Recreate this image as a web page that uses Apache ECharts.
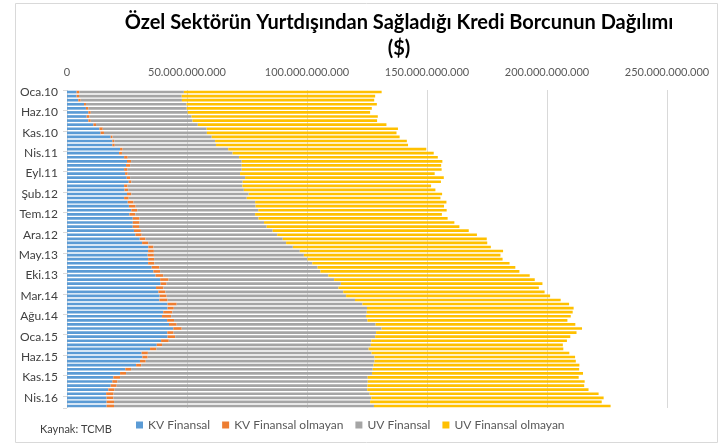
<!DOCTYPE html>
<html lang="tr">

<head>
    <meta charset="UTF-8">
    <title>Özel Sektör Kredi Borcu</title>
    <script src="https://cdn.jsdelivr.net/npm/echarts@6/dist/echarts.min.js"></script>
    <style>
        html, body {
            margin: 0;
            padding: 0;
            background: #fff;
        }

        #chart {
            width: 723px;
            height: 445px;
        }
    </style>
</head>

<body>
    <div id="chart"></div>
    <script type="text/javascript">
        // ay kısaltmaları ve yıllar (Oca.10 - Haz.16)
        const monthNames = ['Oca', 'Şub', 'Mar', 'Nis', 'May', 'Haz', 'Tem', 'Ağu', 'Eyl', 'Eki', 'Kas', 'Ara']
        const years = ['10', '11', '12', '13', '14', '15', '16']
        const lastMonthCount = 6 // 2016: Oca - Haz

        // milyar $ cinsinden
        const kvFinansal = [4.0, 4.0, 4.7, 7.1, 7.9, 8.9, 8.2, 8.9, 11.0, 13.5,
            14.0, 18.2, 18.9, 18.9, 22.1, 21.7, 23.8, 25.0, 24.6, 23.8,
            24.2, 24.9, 25.7, 23.8, 24.0, 25.0, 23.8, 25.3, 25.8, 26.8,
            26.0, 27.4, 27.4, 27.4, 27.9, 28.5, 30.3, 31.3, 33.9, 33.8,
            33.6, 33.8, 33.8, 35.3, 36.0, 36.9, 38.8, 39.0, 37.1, 38.1,
            38.6, 38.5, 41.9, 41.9, 40.1, 39.6, 41.7, 42.5, 44.3, 41.8,
            41.9, 39.2, 37.4, 34.6, 31.1, 31.4, 30.4, 28.8, 24.3, 22.1,
            19.3, 18.9, 18.2, 17.2, 16.3, 16.5, 16.5, 16.5]
        const kvFinansalOlmayan = [1.1, 1.0, 1.0, 0.8, 1.0, 1.0, 1.1, 1.0, 1.1, 1.4,
            1.4, 0.8, 0.8, 1.0, 1.1, 1.2, 1.5, 1.7, 1.7, 1.4,
            1.1, 1.4, 1.1, 1.4, 1.5, 1.8, 1.9, 2.4, 2.8, 2.5,
            2.5, 2.8, 2.8, 2.6, 2.9, 2.6, 2.4, 2.6, 2.1, 2.4,
            2.6, 2.5, 2.6, 3.2, 2.8, 3.2, 3.5, 2.5, 3.1, 2.9,
            2.9, 3.4, 3.8, 2.6, 3.8, 3.8, 2.9, 3.2, 3.5, 2.6,
            3.2, 3.2, 2.2, 2.6, 2.6, 2.2, 2.4, 2.1, 2.4, 2.5,
            2.8, 2.1, 2.5, 2.6, 3.1, 2.8, 3.1, 3.1]
        const uvFinansal = [43.6, 42.8, 42.2, 41.9, 41.0, 40.4, 42.6, 42.4, 42.4, 43.3,
            42.9, 41.3, 42.0, 42.2, 44.0, 46.1, 46.4, 46.1, 46.5, 47.6,
            46.8, 47.9, 46.4, 47.9, 48.2, 48.9, 49.2, 50.7, 50.0, 50.4,
            49.9, 49.6, 51.9, 53.2, 54.9, 56.5, 57.2, 57.4, 58.1, 60.8,
            62.5, 63.9, 65.8, 65.9, 66.8, 68.8, 69.0, 72.6, 72.9, 74.1,
            74.8, 78.1, 77.4, 80.5, 81.0, 81.2, 80.6, 82.9, 83.3, 84.4,
            83.3, 84.4, 87.0, 88.5, 93.2, 94.5, 95.3, 96.8, 100.7, 102.5,
            103.2, 104.3, 104.5, 105.3, 106.7, 107.5, 106.7, 108.3]
        const uvFinansalOlmayan = [82.4, 80.6, 80.1, 79.3, 77.1, 76.0, 77.6, 76.9, 78.6, 79.7,
            79.0, 78.3, 79.9, 80.0, 82.5, 83.8, 82.8, 83.6, 83.1, 83.3,
            81.1, 82.8, 82.6, 78.6, 79.8, 80.6, 80.7, 79.7, 78.5, 78.5,
            77.8, 78.8, 79.3, 80.3, 81.7, 83.2, 85.0, 83.8, 82.5, 84.7,
            81.9, 81.3, 82.2, 82.4, 82.9, 83.9, 83.6, 84.0, 83.5, 83.9,
            85.0, 85.7, 86.1, 86.1, 85.8, 85.3, 83.3, 83.2, 83.5, 83.5,
            81.3, 81.5, 80.0, 81.1, 82.4, 83.6, 83.9, 85.8, 86.0, 87.9,
            87.9, 90.4, 90.3, 92.2, 95.4, 96.8, 96.5, 98.6]

        const seriesNames = ['KV Finansal', 'KV Finansal olmayan', 'UV Finansal', 'UV Finansal olmayan']
        const colors = ['#5B9BD5', '#ED7D31', '#A5A5A5', '#FFC000']
        const BILLION = 1e9

        let categories = []
        years.forEach(function (y, yi) {
            let n = yi === years.length - 1 ? lastMonthCount : 12
            for (let m = 0; m < n; m++) {
                categories.push(monthNames[m] + '.' + y)
            }
        })

        // 50.000.000.000 biçimi
        function dotFormat(v) {
            return String(Math.round(v)).replace(/\B(?=(\d{3})+(?!\d))/g, '.')
        }

        const font = 'Lato, "Open Sans", sans-serif'
        const dataSets = [kvFinansal, kvFinansalOlmayan, uvFinansal, uvFinansalOlmayan]

        let chart = echarts.init(document.getElementById('chart'))
        let option = {
            animation: false,
            color: colors,
            title: {
                text: 'Özel Sektörün Yurtdışından Sağladığı Kredi Borcunun Dağılımı\n($)',
                left: 394,
                top: 5,
                textAlign: 'center',
                textStyle: {
                    fontFamily: font,
                    fontSize: 20,
                    fontWeight: 'bold',
                    color: '#000',
                    lineHeight: 26
                }
            },
            legend: {
                data: seriesNames,
                left: 131,
                top: 414,
                icon: 'rect',
                itemWidth: 7,
                itemHeight: 7,
                itemGap: 12,
                textStyle: {
                    fontFamily: font,
                    fontSize: 12,
                    color: '#595959'
                }
            },
            graphic: [{
                type: 'rect',
                shape: { x: 15.5, y: 3.5, width: 702, height: 439 },
                style: { fill: 'none', stroke: '#d9d9d9', lineWidth: 1 },
                silent: true
            }, {
                type: 'text',
                left: 40,
                top: 424,
                style: {
                    text: 'Kaynak: TCMB',
                    fontFamily: font,
                    fontSize: 11,
                    fill: '#404040'
                }
            }],
            grid: {
                left: 67,
                right: 56,
                top: 90,
                bottom: 37
            },
            xAxis: {
                type: 'value',
                position: 'top',
                min: 0,
                max: 250 * BILLION,
                interval: 50 * BILLION,
                axisLine: { show: false },
                axisTick: { show: false },
                splitLine: { lineStyle: { color: '#d9d9d9' } },
                axisLabel: {
                    formatter: dotFormat,
                    fontFamily: font,
                    fontSize: 11,
                    color: '#595959',
                    margin: 12
                }
            },
            yAxis: {
                type: 'category',
                data: categories,
                inverse: true,
                axisLine: { show: false },
                axisTick: {
                    show: true,
                    interval: 4,
                    length: 4,
                    lineStyle: { color: '#d9d9d9' }
                },
                axisLabel: {
                    interval: 4,
                    fontFamily: font,
                    fontSize: 12,
                    color: '#404040',
                    margin: 9
                }
            },
            series: dataSets.map(function (arr, i) {
                return {
                    name: seriesNames[i],
                    type: 'bar',
                    stack: 'toplam',
                    barCategoryGap: '35%',
                    data: arr.map(function (v) { return v * BILLION })
                }
            })
        }

        chart.setOption(option)
    </script>
</body>

</html>
